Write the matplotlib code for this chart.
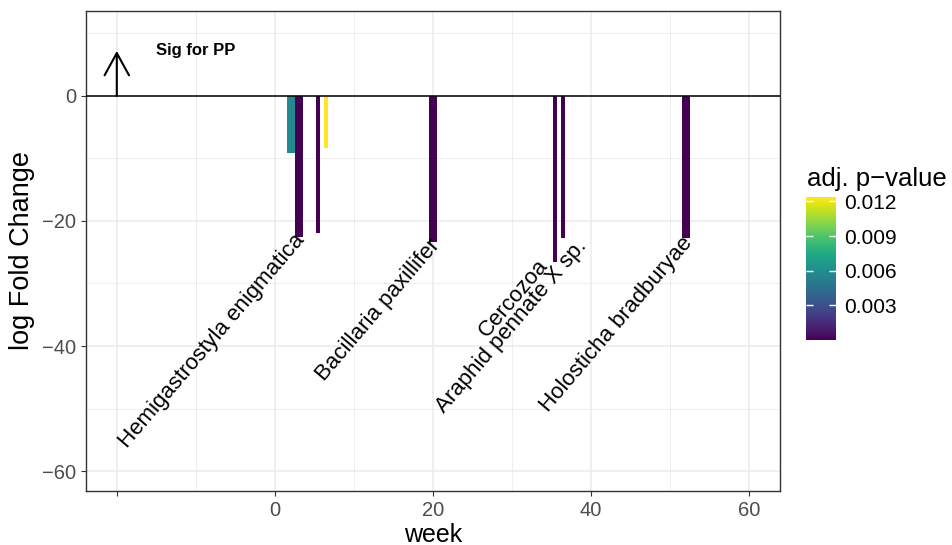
import numpy as np
import matplotlib
matplotlib.use("Agg")
import matplotlib.pyplot as plt
from matplotlib.colors import Normalize

plt.rcParams['font.family'] = ['Liberation Sans', 'DejaVu Sans']

# bars
weeks = [2.0, 3.0, 5.45, 6.45, 20.0, 35.45, 36.45, 52.0]
log_fc = [-9.2, -22.5, -22.0, -8.3, -23.3, -26.5, -22.7, -22.7]
bar_widths = [1.0, 1.0, 0.5, 0.5, 0.95, 0.5, 0.5, 1.0]
padj = [0.0058, 0.0, 0.0, 0.01235, 0.0, 0.0, 0.0, 0.0]

# taxon labels, attached to the bar index they name
label_idx = [1, 4, 5, 6, 7]
label_text = ["Hemigastrostyla enigmatica", "Bacillaria paxillifer", "Cercozoa",
              "Araphid pennate X sp.", "Holosticha bradburyae"]
# repel-style nudges (weeks, log FC)
nudge_x = [0.3, 0.4, -1.3, 2.5, 0.4]
nudge_y = [0.0, 0.0, 0.0, -0.8, -0.3]

x_breaks = [-20, 0, 20, 40, 60]
x_labels = ["", "0", "20", "40", "60"]
y_breaks = [-60, -40, -20, 0]

arrow_week = -20
arrow_top = 7.2
note_text = "Sig for PP"

cmap = plt.get_cmap('viridis')
norm = Normalize(vmin=0.0, vmax=0.01235)

fig = plt.figure(figsize=(9.52, 5.45), dpi=100)
ax = fig.add_axes([0.0903, 0.099, 0.7290, 0.881])

ax.set_axisbelow(True)
ax.bar(weeks, log_fc, width=bar_widths, color=cmap(norm(np.array(padj))), zorder=2)
ax.axhline(0, color='black', lw=1.1, zorder=3)

for i, t, dx, dy in zip(label_idx, label_text, nudge_x, nudge_y):
    ax.text(weeks[i] + dx, log_fc[i] + dy, t, rotation=49.5, rotation_mode='anchor',
            ha='right', va='center', fontsize=16, color='black', zorder=4)

ax.annotate('', xy=(arrow_week, arrow_top), xytext=(arrow_week, 0),
            arrowprops=dict(arrowstyle='->,head_length=0.4,head_width=0.22',
                            lw=1.5, color='black', mutation_scale=40,
                            shrinkA=0, shrinkB=0), zorder=4)
ax.text(-10, arrow_top, note_text, ha='center', va='center', fontsize=12,
        fontweight='bold')

ax.set_xlim(-23.9, 63.9)
ax.set_ylim(-63.2, 13.6)
ax.set_xticks(x_breaks)
ax.set_xticklabels(x_labels)
ax.set_xticks([-10, 10, 30, 50], minor=True)
ax.set_yticks(y_breaks)
ax.set_yticks([-50, -30, -10, 10], minor=True)

ax.grid(True, which='major', color='#EBEBEB', lw=1.1)
ax.grid(True, which='minor', color='#EBEBEB', lw=0.6)
ax.tick_params(which='major', length=3.5, color='#333333', labelcolor='#4D4D4D',
               labelsize=14.5)
ax.tick_params(which='minor', length=0)
for s in ax.spines.values():
    s.set_color('#333333')
    s.set_linewidth(1.0)

ax.set_xlabel("week", fontsize=18, labelpad=2)
ax.set_ylabel("log Fold Change", fontsize=19.5, labelpad=5)

# colour bar legend
cax = fig.add_axes([0.8466, 0.376, 0.0315, 0.262])
sm = plt.cm.ScalarMappable(norm=norm, cmap=cmap)
cb = fig.colorbar(sm, cax=cax, ticks=[0.003, 0.006, 0.009, 0.012])
cb.outline.set_visible(False)
cb.ax.tick_params(direction='in', length=5, width=1, color='white', left=True,
                  right=True, labelleft=False, labelsize=15, pad=6)
cb.ax.set_yticklabels(["0.003", "0.006", "0.009", "0.012"])
fig.text(0.8476, 0.672, "adj. p\u2212value", fontsize=18.5, ha='left', va='center')

fig.savefig("out.png", dpi=100)
